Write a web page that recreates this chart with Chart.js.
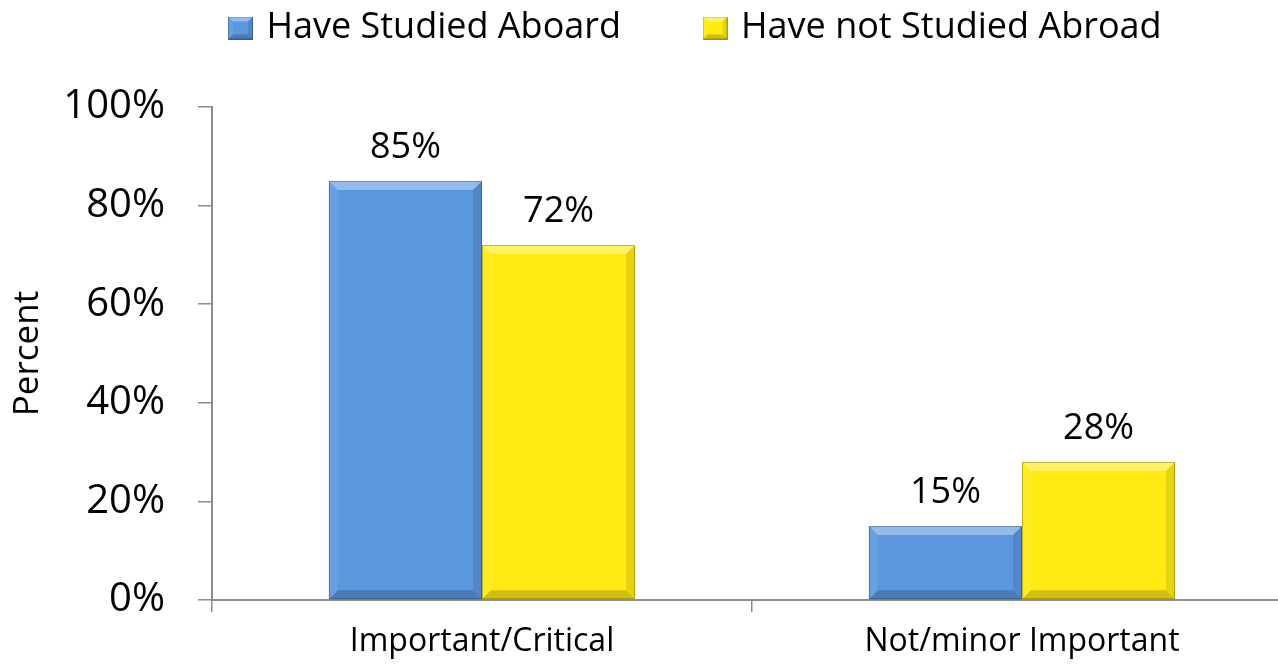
<!DOCTYPE html>
<html>
<head>
<meta charset="utf-8">
<script src="https://cdn.jsdelivr.net/npm/chart.js@4.4.1/dist/chart.umd.min.js"></script>
<style>
  html, body { margin: 0; padding: 0; background: #fff; overflow: hidden; }
  #wrap { width: 1278px; height: 665px; overflow: hidden; }
</style>
</head>
<body>
<div id="wrap"><canvas id="chart" width="1300" height="665"></canvas></div>
<script>
const categories = ['Important/Critical', 'Not/minor Important'];
const studiedAbroad = [85, 15];
const notStudiedAbroad = [72, 28];
const seriesNames = ['Have Studied Aboard', 'Have not Studied Abroad'];
const yTicks = [0, 20, 40, 60, 80, 100];

const FONT = "'Open Sans', sans-serif";
const blue = '#5b97dd';
const yellow = '#ffea14';

// bevel look like the office bars
function bevel(ctx, l, t, r, b, size) {
  const s = Math.min(size, (r - l) / 2, (b - t) / 2);
  const faces = [
    [[l, t], [r, t], [r - s, t + s], [l + s, t + s], 'rgba(255,255,255,0.35)'],
    [[l, t], [l + s, t + s], [l + s, b - s], [l, b], 'rgba(255,255,255,0.08)'],
    [[r, t], [r - s, t + s], [r - s, b - s], [r, b], 'rgba(0,0,0,0.10)'],
    [[l, b], [l + s, b - s], [r - s, b - s], [r, b], 'rgba(0,0,0,0.18)']
  ];
  faces.forEach(f => {
    ctx.beginPath();
    ctx.moveTo(f[0][0], f[0][1]);
    for (let i = 1; i < 4; i++) ctx.lineTo(f[i][0], f[i][1]);
    ctx.closePath();
    ctx.fillStyle = f[4];
    ctx.fill();
  });
  ctx.strokeStyle = 'rgba(0,0,0,0.25)';
  ctx.lineWidth = 1;
  ctx.strokeRect(l + 0.5, t + 0.5, r - l - 1, b - t - 1);
}

function swatch(color) {
  const c = document.createElement('canvas');
  c.width = 25; c.height = 23;
  const x = c.getContext('2d');
  x.fillStyle = color;
  x.fillRect(0, 0, 25, 23);
  bevel(x, 0, 0, 25, 23, 5);
  return c;
}

const barBevel = {
  id: 'barBevel',
  afterDatasetsDraw(chart) {
    const ctx = chart.ctx;
    ctx.save();
    chart.data.datasets.forEach((ds, i) => {
      chart.getDatasetMeta(i).data.forEach((bar, j) => {
        const p = bar.getProps(['x', 'y', 'base', 'width'], true);
        bevel(ctx, p.x - p.width / 2, p.y, p.x + p.width / 2, p.base, 9);
        // value label
        ctx.fillStyle = '#000';
        ctx.font = '36px ' + FONT;
        ctx.textAlign = 'center';
        ctx.textBaseline = 'middle';
        ctx.fillText(ds.data[j] + '%', p.x, p.y - 33);
      });
    });
    ctx.restore();
  }
};

// legend sits taller and a bit right, like the original
const legendTweak = {
  id: 'legendTweak',
  beforeInit(chart) {
    const fit = chart.legend.fit;
    chart.legend.fit = function () {
      fit.bind(chart.legend)();
      this.height = 107;
    };
  },
  afterLayout(chart) {
    const lg = chart.legend;
    lg.top -= 76;
    lg.left += 51;
    lg.right += 51;
  }
};

new Chart(document.getElementById('chart'), {
  type: 'bar',
  data: {
    labels: categories,
    datasets: [
      { label: seriesNames[0], data: studiedAbroad, backgroundColor: blue, borderWidth: 0 },
      { label: seriesNames[1], data: notStudiedAbroad, backgroundColor: yellow, borderWidth: 0 }
    ]
  },
  options: {
    responsive: false,
    animation: false,
    devicePixelRatio: 1,
    layout: { padding: { top: 0, left: 0, bottom: 0, right: 8 } },
    categoryPercentage: 0.567,
    barPercentage: 1,
    plugins: {
      tooltip: { enabled: false },
      legend: {
        position: 'top',
        labels: {
          color: '#000',
          font: { family: FONT, size: 36 },
          padding: 86,
          boxWidth: 16,
          usePointStyle: true,
          generateLabels(chart) {
            const items = Chart.defaults.plugins.legend.labels.generateLabels(chart);
            items.forEach((it, i) => { it.pointStyle = swatch(i === 0 ? blue : yellow); });
            return items;
          }
        }
      }
    },
    scales: {
      x: {
        grid: { offset: true, drawOnChartArea: false, tickLength: 12, color: '#8c8c8c', lineWidth: 1.5 },
        border: { color: '#8c8c8c', width: 2 },
        ticks: { color: '#000', font: { family: FONT, size: 32 }, padding: 11 },
        afterFit(scale) { scale.height = 65; }
      },
      y: {
        min: 0,
        max: 100,
        afterBuildTicks(scale) { scale.ticks = yTicks.map(v => ({ value: v })); },
        grid: { drawOnChartArea: false, tickLength: 14, color: '#8c8c8c', lineWidth: 1.5 },
        border: { color: '#8c8c8c', width: 2 },
        ticks: { color: '#000', font: { family: FONT, size: 40 }, padding: 33, callback: v => v + '%' },
        title: { display: true, text: 'Percent', color: '#000', font: { family: FONT, size: 35 }, padding: { top: 7, bottom: 0 } },
        afterFit(scale) { scale.width = 212; }
      }
    }
  },
  plugins: [barBevel, legendTweak]
});
</script>
</body>
</html>
